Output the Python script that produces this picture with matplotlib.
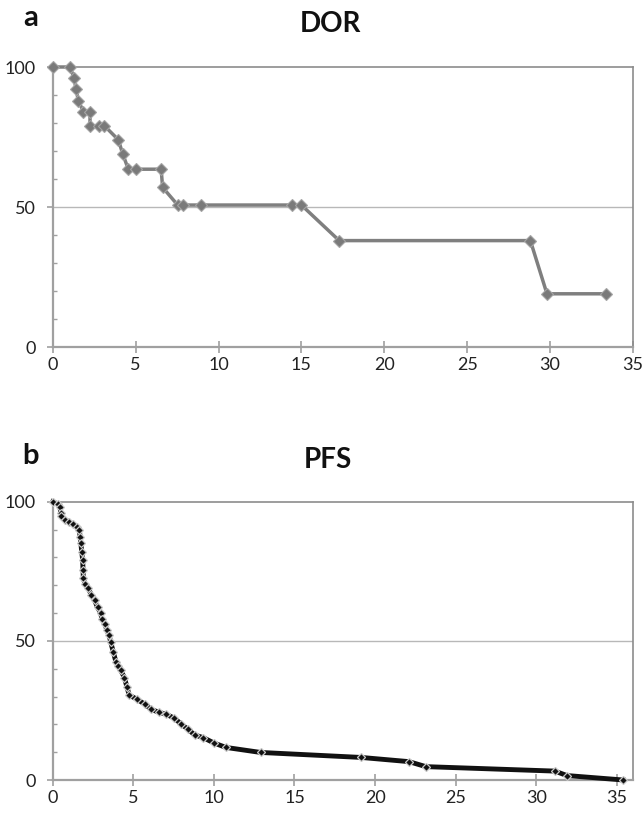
import matplotlib
matplotlib.use("Agg")
import matplotlib.pyplot as plt
from matplotlib.ticker import MultipleLocator

plt.rcParams['font.family'] = ['Lato', 'DejaVu Sans']

# DOR data (months, %)
dor_t = [0, 1.05, 1.29, 1.41, 1.55, 1.85, 2.25, 2.25, 2.81, 3.12, 3.96, 4.22, 4.56,
         5.03, 6.54, 6.63, 7.54, 7.84, 8.95, 14.42, 15.0, 17.28, 28.81, 29.81, 33.39]
dor_v = [100, 100, 96, 92, 88, 84, 84, 79, 79, 79, 74, 69, 63.5,
         63.5, 63.5, 57, 50.7, 50.7, 50.7, 50.7, 50.7, 38, 38, 19, 19]

# PFS data (months, %)
pfs_t = [0, 0.3, 0.45, 0.5, 0.52, 0.75, 1.0, 1.28, 1.5, 1.65, 1.7, 1.75, 1.8, 1.86, 1.88,
         1.9, 2.0, 2.2, 2.4, 2.6, 2.78, 2.98, 3.05, 3.25, 3.35, 3.5, 3.6, 3.76, 3.92, 4.05,
         4.21, 4.45, 4.6, 4.75, 5.2, 5.7, 6.1, 6.6, 7.05, 7.55, 7.95, 8.4, 8.8, 9.35, 10.0,
         10.75, 12.9, 19.15, 22.1, 23.15, 31.15, 31.9, 35.4]
pfs_v = [100, 99.2, 98.2, 96, 94.9, 93.6, 92.8, 91.9, 90.9, 89.8, 87.4, 85, 82, 79, 75.5,
         72.5, 70.6, 68.9, 66.5, 64.6, 62, 60, 57.8, 56, 54, 52, 49.5, 46, 42.5, 41,
         39.5, 36.8, 33.5, 30.5, 29.1, 27.3, 25.4, 24.3, 23.6, 22.2, 20.2, 18.2, 16.2, 15.2, 13.3,
         11.7, 9.9, 8.1, 6.6, 4.8, 3.2, 1.6, 0]

x_ticks = [0, 5, 10, 15, 20, 25, 30, 35]
y_ticks = [0, 50, 100]

W, H = 644, 813
fig = plt.figure(figsize=(W / 100, H / 100), dpi=100)

axc = '#a0a0a0'

def style(ax, xmax):
    ax.set_xlim(0, xmax)
    ax.set_ylim(0, 100)
    ax.set_xticks(x_ticks)
    ax.set_yticks(y_ticks)
    ax.yaxis.set_minor_locator(MultipleLocator(10))
    for s in ['left', 'bottom']:
        ax.spines[s].set_color(axc)
        ax.spines[s].set_linewidth(1.6)
    for s in ['top', 'right']:
        ax.spines[s].set_color('#8c8c8c')
        ax.spines[s].set_linewidth(1.2)
    ax.axhline(50, color='#b8b8b8', lw=1.0, zorder=0)
    ax.tick_params(axis='x', direction='inout', length=8, width=1.2, color=axc,
                   labelsize=13, pad=3, labelcolor='#222222')
    ax.tick_params(axis='y', which='major', direction='out', length=4, width=1.2, color=axc,
                   labelsize=13, pad=8, labelcolor='#222222')
    ax.tick_params(axis='y', which='minor', direction='in', length=3, width=1.0, color=axc)

# top: DOR
ax1 = fig.add_axes([52.7 / W, 1 - 347 / H, (633 - 52.7) / W, (347 - 67) / H])
ax1.plot(dor_t, dor_v, color='#7f7f7f', lw=2.5, marker='D', markersize=6,
         markerfacecolor='#7a7a7a', markeredgecolor='#a5a5a5', markeredgewidth=0.8,
         clip_on=False, zorder=3)
style(ax1, 35)

# bottom: PFS
ax2 = fig.add_axes([52.7 / W, 1 - 780 / H, (633 - 52.7) / W, (780 - 501.7) / H])
ax2.plot(pfs_t, pfs_v, color='#111111', lw=3.5, marker='D', markersize=4.5,
         markerfacecolor='#111111', markeredgecolor='#c8c8c8', markeredgewidth=0.9,
         clip_on=False, zorder=3)
style(ax2, 36)

fig.text(330 / W, 1 - 24 / H, 'DOR', ha='center', va='center', fontsize=20,
         fontweight='bold', color='#111111')
fig.text(328 / W, 1 - 460 / H, 'PFS', ha='center', va='center', fontsize=20,
         fontweight='bold', color='#111111')
fig.text(31 / W, 1 - 18 / H, 'a', ha='center', va='center', fontsize=21,
         fontweight='bold', color='#111111')
fig.text(31 / W, 1 - 456 / H, 'b', ha='center', va='center', fontsize=21,
         fontweight='bold', color='#111111')

fig.savefig('out.png', dpi=100)
